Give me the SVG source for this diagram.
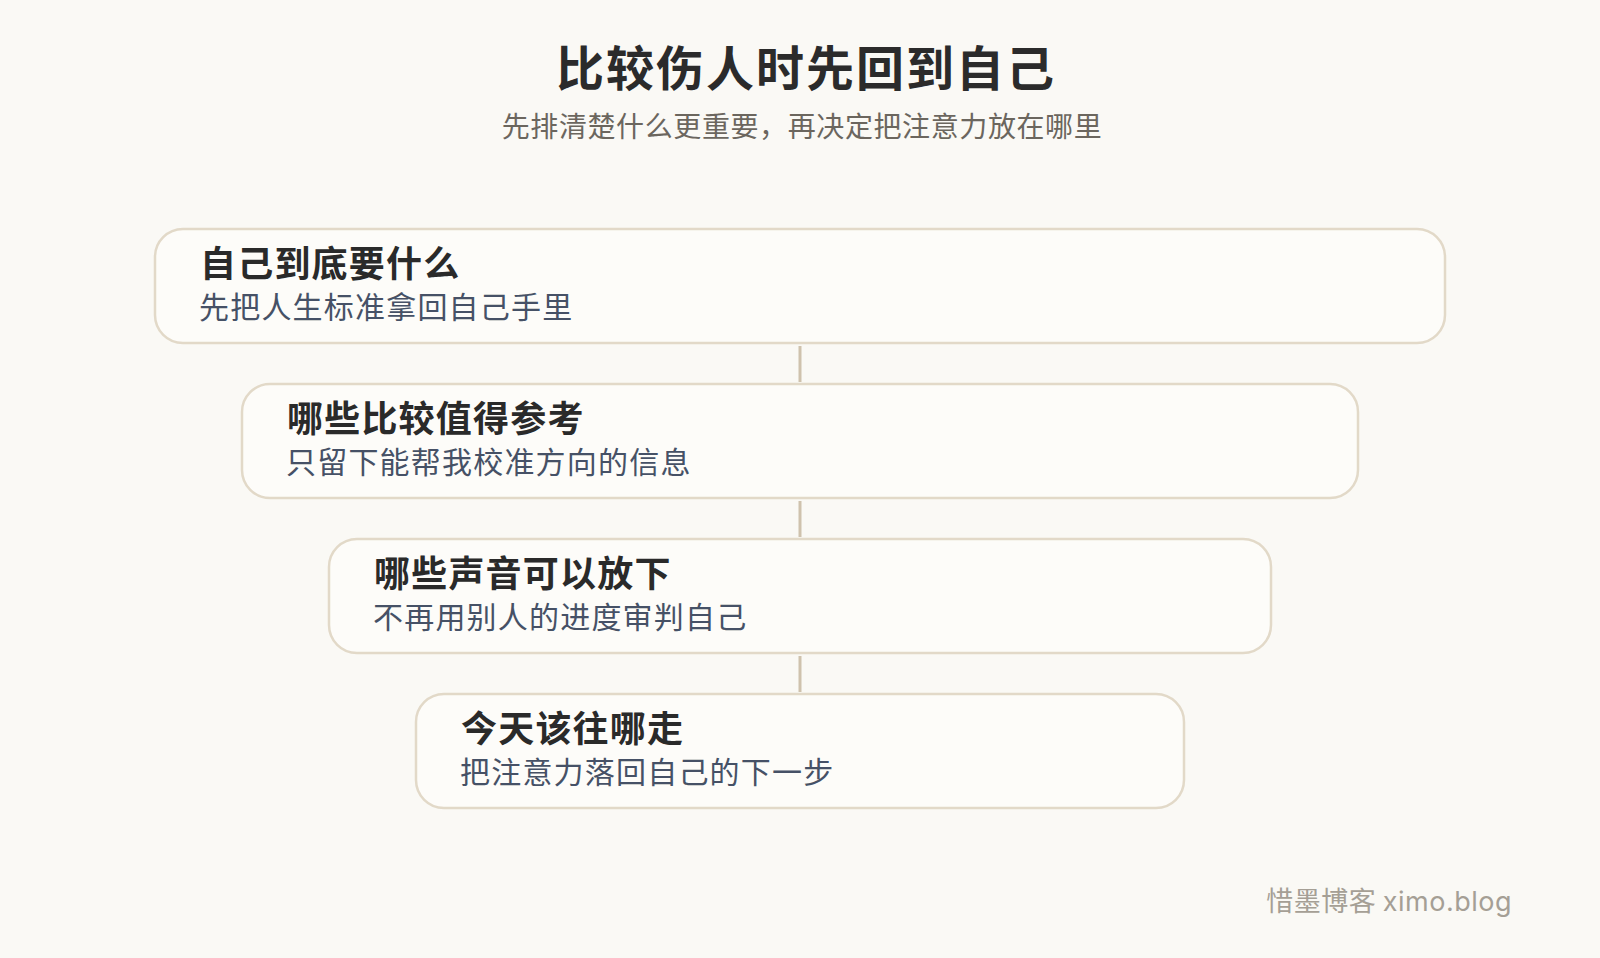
<svg xmlns="http://www.w3.org/2000/svg" width="1600" height="958" viewBox="0 0 1600 958">
<style>
.bg{fill:#faf9f5}
.box{fill:#fdfcf9;stroke:#e2d9c8;stroke-width:2.5}
.conn{stroke:#cfc2ad;stroke-width:3;fill:none}
.t{font-family:"Noto Sans CJK SC","Noto Sans",sans-serif;font-weight:700;font-size:36px;letter-spacing:1.2px;fill:#2a2a2a}
.s{font-family:"Noto Sans CJK SC","Noto Sans",sans-serif;font-weight:400;font-size:30px;letter-spacing:1.2px;fill:#465166}
.h1{font-family:"Noto Sans CJK SC","Noto Sans",sans-serif;font-weight:700;font-size:48px;letter-spacing:2px;fill:#2b2b2b}
.h2{font-family:"Noto Sans CJK SC","Noto Sans",sans-serif;font-weight:400;font-size:28px;letter-spacing:0.6px;fill:#6b665e}
.ft{font-family:"Noto Sans CJK SC","Noto Sans",sans-serif;font-weight:400;font-size:27px;letter-spacing:0.5px;fill:#a59f95}
.lat{font-family:Inter,"Noto Sans",sans-serif}
</style>
<rect class="bg" x="0" y="0" width="1600" height="958"/>
<g id="header">
<text class="h1" x="806" y="86" text-anchor="middle">比较伤人时先回到自己</text>
<text class="h2" x="802" y="137" text-anchor="middle">先排清楚什么更重要，再决定把注意力放在哪里</text>
</g>
<g id="connectors">
<line class="conn" x1="800" y1="346" x2="800" y2="382"/>
<line class="conn" x1="800" y1="501" x2="800" y2="537"/>
<line class="conn" x1="800" y1="656" x2="800" y2="692"/>
</g>
<g id="node1">
<rect class="box" x="155" y="229" width="1290" height="114" rx="28"/>
<text class="t" x="200" y="277">自己到底要什么</text>
<text class="s" x="199" y="318">先把人生标准拿回自己手里</text>
</g>
<g id="node2">
<rect class="box" x="242" y="384" width="1116" height="114" rx="28"/>
<text class="t" x="287" y="432">哪些比较值得参考</text>
<text class="s" x="286" y="473">只留下能帮我校准方向的信息</text>
</g>
<g id="node3">
<rect class="box" x="329" y="539" width="942" height="114" rx="28"/>
<text class="t" x="374" y="587">哪些声音可以放下</text>
<text class="s" x="373" y="628">不再用别人的进度审判自己</text>
</g>
<g id="node4">
<rect class="box" x="416" y="694" width="768" height="114" rx="28"/>
<text class="t" x="461" y="742">今天该往哪走</text>
<text class="s" x="460" y="783">把注意力落回自己的下一步</text>
</g>
<g id="footer">
<text class="ft" x="1512" y="911" text-anchor="end">惜墨博客 <tspan class="lat">ximo.blog</tspan></text>
</g>
</svg>
